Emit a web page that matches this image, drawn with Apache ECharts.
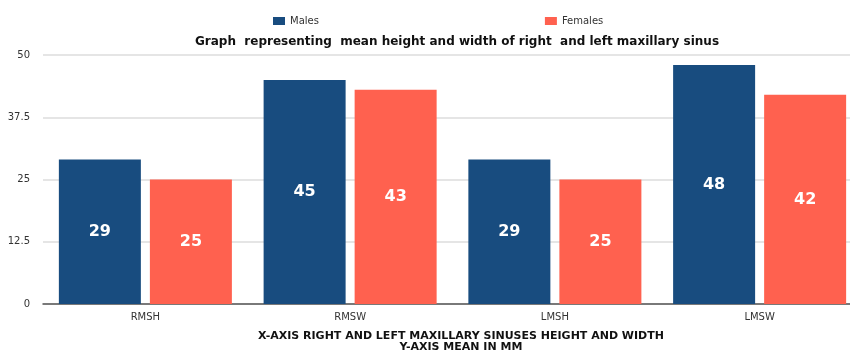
<!DOCTYPE html>
<html>
<head>
<meta charset="utf-8">
<script src="https://cdn.jsdelivr.net/npm/echarts@6/dist/echarts.min.js"></script>
<style>
  html, body { margin: 0; padding: 0; background: #fff; }
  #chart { width: 850px; height: 354px; }
</style>
</head>
<body>
<div id="chart"></div>
<script>
// data
const categories = ['RMSH', 'RMSW', 'LMSH', 'LMSW'];
const males = [29, 45, 29, 48];
const females = [25, 43, 25, 42];
const yTicks = [0, 12.5, 25, 37.5, 50];

const FONT = '"DejaVu Sans", Verdana, sans-serif';

const chart = echarts.init(document.getElementById('chart'));

const option = {
  animation: false,
  textStyle: { fontFamily: FONT },
  title: [
    {
      text: 'Graph  representing  mean height and width of right  and left maxillary sinus',
      left: 452, top: 31, textAlign: 'center',
      textStyle: { fontSize: 12, fontWeight: 'bold', color: '#111', fontFamily: FONT }
    },
    {
      text: 'X-AXIS RIGHT AND LEFT MAXILLARY SINUSES HEIGHT AND WIDTH\nY-AXIS MEAN IN MM',
      left: 456, top: 326, textAlign: 'center',
      textStyle: { fontSize: 11, fontWeight: 'bold', color: '#111', lineHeight: 11, fontFamily: FONT }
    }
  ],
  legend: {
    data: ['Males', 'Females'],
    left: 268, top: 11,
    itemWidth: 12, itemHeight: 8, itemGap: 226,
    icon: 'rect',
    textStyle: { fontSize: 10, color: '#333', fontFamily: FONT }
  },
  grid: { left: 43, width: 819, top: 55, bottom: 50, outerBoundsMode: 'none' },
  xAxis: {
    type: 'category',
    data: categories,
    axisTick: { show: false },
    axisLine: { lineStyle: { color: '#555', width: 1.5 } },
    axisLabel: { fontSize: 10, color: '#333', margin: 8, fontFamily: FONT }
  },
  yAxis: {
    type: 'value',
    min: yTicks[0], max: yTicks[yTicks.length - 1], interval: 12.5,
    axisLine: { show: false },
    axisTick: { show: false },
    axisLabel: { fontSize: 10, color: '#333', margin: 13, fontFamily: FONT },
    splitLine: { lineStyle: { color: '#ddd', width: 1.5 } }
  },
  series: [
    {
      name: 'Males', type: 'bar', data: males,
      barWidth: 82, barGap: '11%',
      itemStyle: { color: '#184C7F' },
      label: { show: true, position: 'inside', color: '#fff', fontSize: 16, fontWeight: 'bold', fontFamily: FONT }
    },
    {
      name: 'Females', type: 'bar', data: females,
      barWidth: 82,
      itemStyle: { color: '#FF614F' },
      label: { show: true, position: 'inside', color: '#fff', fontSize: 16, fontWeight: 'bold', fontFamily: FONT }
    }
  ]
};

chart.setOption(option);
</script>
</body>
</html>
